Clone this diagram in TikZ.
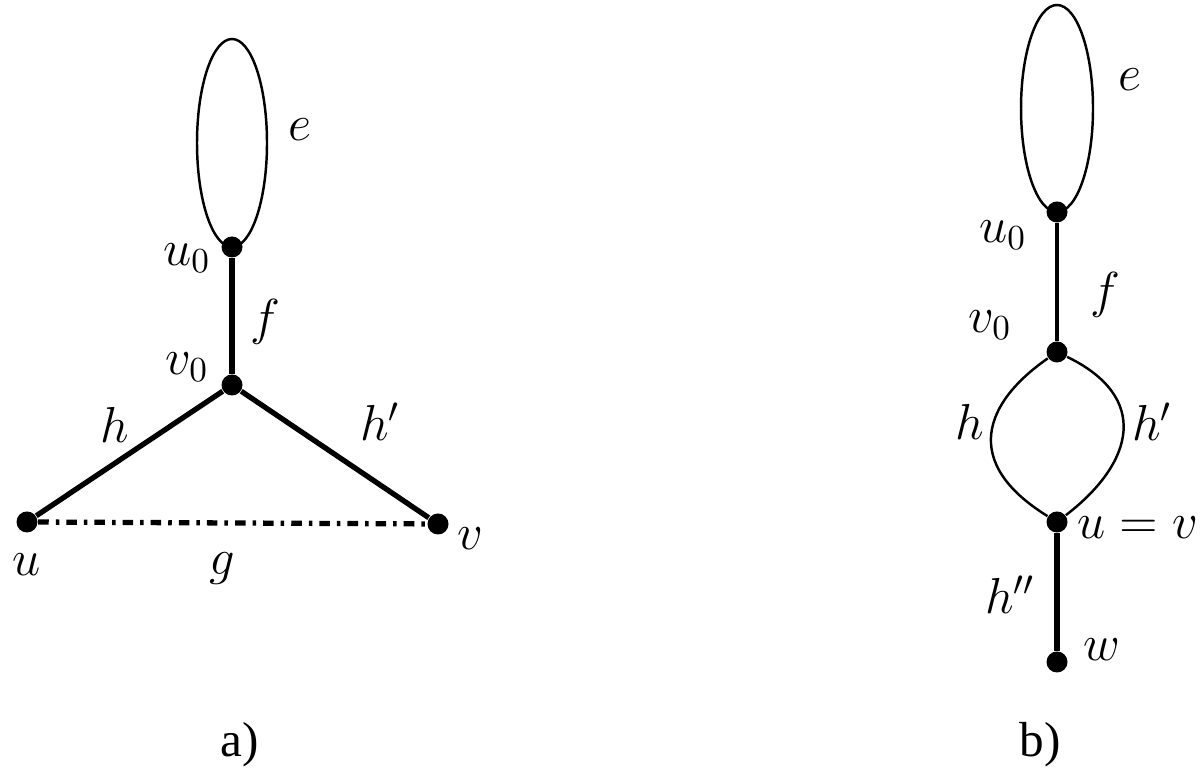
\documentclass[tikz,border=0pt]{standalone}
\usepackage{fontspec}
\setmainfont{Liberation Serif}
\begin{document}
\begin{tikzpicture}[
    dot/.style={circle,fill=black,inner sep=0pt,minimum size=0.21cm},
    lbl/.style={font=\fontsize{14}{16}\selectfont},
    thickedge/.style={line width=1.5pt},
    thinedge/.style={line width=0.7pt},
    dashdotedge/.style={line width=1.5pt,dash pattern=on 3pt off 2pt on 1pt off 2pt}]
    \useasboundingbox (0,0) rectangle (12.01,7.72);
    % a)
    \node[dot] (au0) at (2.32,5.25) {};
    \node[dot] (av0) at (2.32,3.87) {};
    \node[dot] (au) at (0.27,2.50) {};
    \node[dot] (av) at (4.38,2.48) {};
    \draw[thinedge] (2.32,6.29) ellipse (0.35 and 1.04);
    \draw[thickedge] (au0) -- (av0);
    \draw[thickedge] (av0) -- (au);
    \draw[thickedge] (av0) -- (av);
    \draw[dashdotedge] (au) -- (av);
    \node[lbl] (ae) at (3.00,6.42) {$e$};
    \node[lbl] (au0l) at (1.87,5.14) {$u_0$};
    \node[lbl] (af) at (2.65,4.50) {$f$};
    \node[lbl] (av0l) at (1.87,4.05) {$v_0$};
    \node[lbl] (ah) at (1.15,3.47) {$h$};
    \node[lbl] (ahp) at (3.80,3.50) {$h'$};
    \node[lbl] (aul) at (0.27,2.07) {$u$};
    \node[lbl] (ag) at (2.22,2.03) {$g$};
    \node[lbl] (avl) at (4.70,2.33) {$v$};
    \node[lbl] (capa) at (2.40,0.27) {a)};
    % b)
    \node[dot] (bu0) at (10.57,5.60) {};
    \node[dot] (bv0) at (10.57,4.20) {};
    \node[dot] (buv) at (10.57,2.50) {};
    \node[dot] (bw) at (10.57,1.10) {};
    \draw[thinedge] (10.57,6.635) ellipse (0.36 and 1.035);
    \draw[line width=1.1pt] (bu0) -- (bv0);
    \draw[thinedge] (bv0) .. controls (9.85,3.7) and (9.6,3.1) .. (buv);
    \draw[thinedge] (bv0) .. controls (11.5,3.75) and (11.35,3.1) .. (buv);
    \draw[thickedge] (buv) -- (bw);
    \node[lbl] (be) at (11.30,6.92) {$e$};
    \node[lbl] (bu0l) at (10.03,5.37) {$u_0$};
    \node[lbl] (bf) at (11.05,4.77) {$f$};
    \node[lbl] (bv0l) at (9.90,4.47) {$v_0$};
    \node[lbl] (bh) at (9.70,3.50) {$h$};
    \node[lbl] (bhp) at (11.52,3.50) {$h'$};
    \node[lbl] (buvl) at (11.38,2.44) {$u=v$};
    \node[lbl] (bhpp) at (10.10,1.77) {$h''$};
    \node[lbl] (bwl) at (11.02,1.22) {$w$};
    \node[lbl] (capb) at (10.40,0.27) {b)};
\end{tikzpicture}
\end{document}
